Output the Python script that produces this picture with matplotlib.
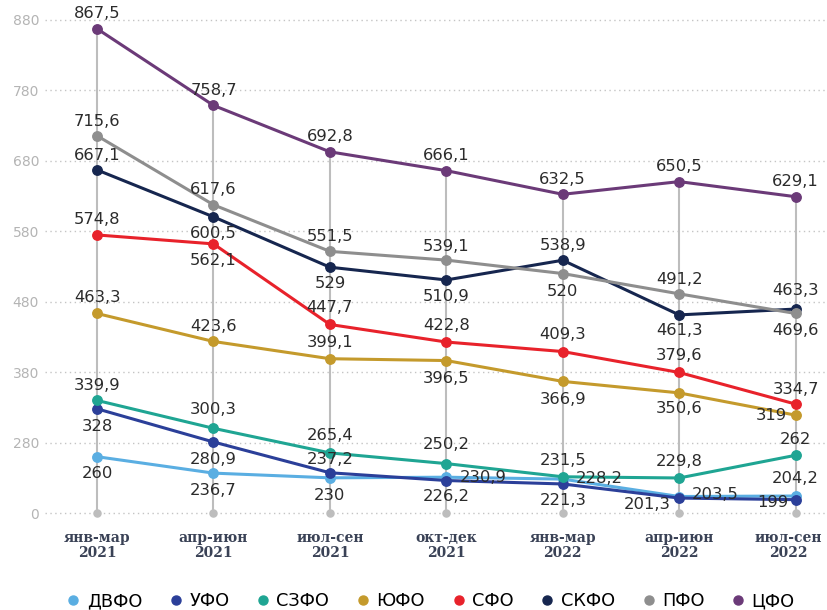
import matplotlib
matplotlib.use("Agg")
import matplotlib.pyplot as plt
import matplotlib.transforms as mtransforms
from matplotlib.lines import Line2D

# ── data ─────────────────────────────────────────────────────────────────────
PERIODS = ["янв-мар\n2021", "апр-июн\n2021", "июл-сен\n2021", "окт-дек\n2021",
           "янв-мар\n2022", "апр-июн\n2022", "июл-сен\n2022"]

REGIONS = ["ДВФО", "УФО", "СЗФО", "ЮФО", "СФО", "СКФО", "ПФО", "ЦФО"]

dvfo = [260, 236.7, 230, 230.9, 228.2, 203.5, 204.2]
ufo  = [328, 280.9, 237.2, 226.2, 221.3, 201.3, 199]
szfo = [339.9, 300.3, 265.4, 250.2, 231.5, 229.8, 262]
yufo = [463.3, 423.6, 399.1, 396.5, 366.9, 350.6, 319]
sfo  = [574.8, 562.1, 447.7, 422.8, 409.3, 379.6, 334.7]
skfo = [667.1, 600.5, 529, 510.9, 538.9, 461.3, 469.6]
pfo  = [715.6, 617.6, 551.5, 539.1, 520, 491.2, 463.3]
cfo  = [867.5, 758.7, 692.8, 666.1, 632.5, 650.5, 629.1]

SERIES = [dvfo, ufo, szfo, yufo, sfo, skfo, pfo, cfo]

# axis floor is shown as "0"; the scale is broken below 280
Y_TICKS = [180, 280, 380, 480, 580, 680, 780, 880]
Y_TICK_LABELS = ["0", "280", "380", "480", "580", "680", "780", "880"]

# ── style ────────────────────────────────────────────────────────────────────
COLORS = ["#5aaee2", "#2b3f99", "#1fa593", "#c49a2c",
          "#e8222b", "#16264f", "#8e8e8e", "#6b3a78"]

A, B = 15, -17
# label offsets in pixels (dx, dy) for each point
OFFSETS = [
    [(0, B), (0, B), (0, -18), (37, 0), (37, 1), (36, 2), (0, 18)],      # ДВФО
    [(0, -18), (0, -18), (0, 13), (0, -16), (0, -17), (-32, -6), (-23, -3)],  # УФО
    [(0, A), (0, 19), (0, 17), (0, 19), (0, 16), (0, 16), (0, 16)],      # СЗФО
    [(0, 16), (0, A), (0, 16), (0, -18), (0, -18), (0, -16), (-24, 0)],  # ЮФО
    [(0, A), (0, B), (0, 17), (0, 17), (0, 17), (0, 17), (0, A)],        # СФО
    [(0, 14), (0, B), (0, -16), (0, B), (0, A), (0, -16), (0, -21)],     # СКФО
    [(0, 14), (0, A), (0, A), (0, 14), (0, -18), (0, 14), (0, 23)],      # ПФО
    [(0, A)] * 7,                                                         # ЦФО
]

LABEL_FONT = "DejaVu Sans"
GRID_COL = "#c4c4c4"

fig = plt.figure(figsize=(8.27, 6.10), dpi=100)
fig.patch.set_facecolor("white")
ax = fig.add_axes([0.054, 0.1416, 0.946, 0.843])

x = list(range(len(PERIODS)))

# vertical drop lines from the floor to the highest point
tops = [max(s[i] for s in SERIES) for i in x]
ax.vlines(x, Y_TICKS[0], tops, color="#bdbdbd", lw=1.5, zorder=1)
ax.scatter(x, [Y_TICKS[0]] * len(x), s=26, color="#bdbdbd", zorder=2,
           clip_on=False)

for vals, col, offs in zip(SERIES, COLORS, OFFSETS):
    ax.plot(x, vals, color=col, lw=2.2, marker="o", markersize=6.8, zorder=3)
    for xi, v, (dx, dy) in zip(x, vals, offs):
        ax.annotate(f"{v:g}".replace(".", ","), (xi, v),
                    xytext=(dx, dy), textcoords="offset pixels",
                    ha="center", va="center", fontsize=11.8,
                    family=LABEL_FONT, color="#2b2b2b", zorder=4)

ax.set_xlim(-0.45, 6.27)
ax.set_ylim(165, 895)
ax.set_yticks(Y_TICKS)
ax.set_yticklabels(Y_TICK_LABELS, color="#b4b4b4", fontsize=10,
                   family=LABEL_FONT)
ax.set_xticks(x)
ax.set_xticklabels(PERIODS, color="#3a4256", fontsize=10, fontweight="bold",
                   family="DejaVu Serif", linespacing=1.1)
ax.tick_params(length=0, axis="y", pad=4)
ax.tick_params(length=0, axis="x", pad=5)

# nudge the last period label so it stays inside the figure
last = ax.get_xticklabels()[-1]
last.set_transform(last.get_transform() +
                   mtransforms.ScaledTranslation(-7 / 100, 0, fig.dpi_scale_trans))

for s in ax.spines.values():
    s.set_visible(False)
for t in Y_TICKS:
    ax.axhline(t, color=GRID_COL, lw=1.0, ls=(0, (1, 2.5)), zorder=0)

handles = [Line2D([], [], ls="", marker="o", markersize=6.5, color=c)
           for c in COLORS]
fig.legend(handles, REGIONS, loc="center", bbox_to_anchor=(0.52, 1 - 601 / 610),
           ncol=len(REGIONS), frameon=False,
           handletextpad=0.3, columnspacing=1.45, handlelength=0.9,
           prop={"family": LABEL_FONT, "size": 12.8})

plt.savefig("out.png", dpi=100, facecolor="white")
